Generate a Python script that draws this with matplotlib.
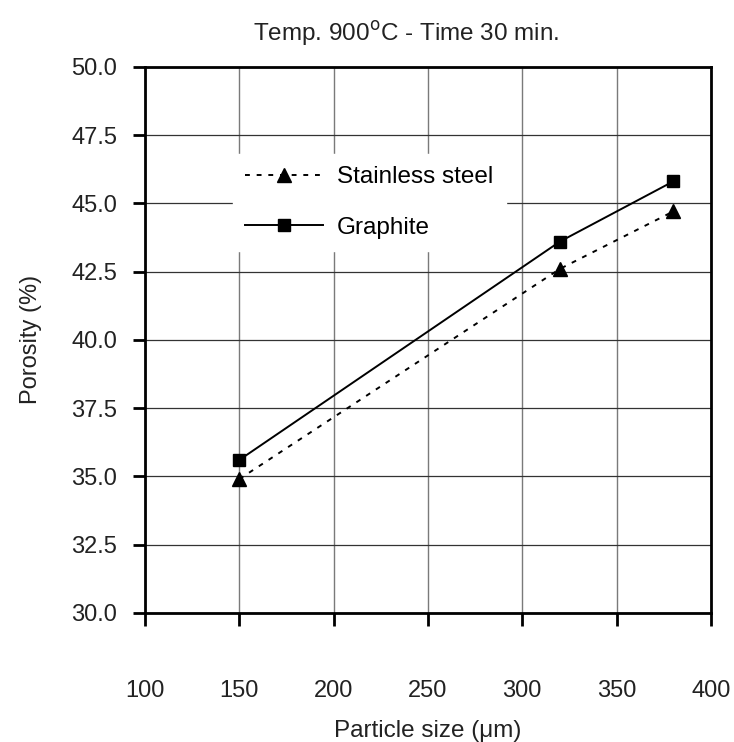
import matplotlib.pyplot as plt

plt.rcParams['font.family'] = ['Liberation Sans', 'DejaVu Sans']

particle_size = [150, 320, 380]
stainless = [34.9, 42.6, 44.7]
graphite = [35.6, 43.6, 45.8]
x_ticks = [100, 150, 200, 250, 300, 350, 400]
y_ticks = [30.0, 32.5, 35.0, 37.5, 40.0, 42.5, 45.0, 47.5, 50.0]

fig = plt.figure(figsize=(7.34, 7.42), dpi=100)
ax = fig.add_axes([0.1975, 0.174, 0.771, 0.736])

ax.plot(particle_size, stainless, color='black', linestyle=(0, (2.5, 3.5)), linewidth=1.4,
        marker='^', markersize=10.5, label='Stainless steel')
ax.plot(particle_size, graphite, color='black', linestyle='-', linewidth=1.4,
        marker='s', markersize=8.5, label='Graphite')

ax.set_xlim(100, 400)
ax.set_ylim(30, 50)
ax.set_xticks(x_ticks)
ax.set_yticks(y_ticks)
ax.set_yticklabels([f'{v:.1f}' for v in y_ticks])
ax.xaxis.grid(True, color='#7a7a7a', linewidth=1.0)
ax.yaxis.grid(True, color='#333333', linewidth=0.9)
ax.set_axisbelow(True)

for s in ax.spines.values():
    s.set_linewidth(2)
ax.tick_params(axis='x', direction='out', length=9, width=2, pad=39, labelsize=17)
ax.tick_params(axis='y', direction='out', length=9, width=2, pad=11, labelsize=17)
for lbl in ax.get_xticklabels() + ax.get_yticklabels():
    lbl.set_color('#222222')

# title sits a bit left of the axes centre in the original
fig.text(0.553, 0.9447, r'Temp. 900$^{\mathrm{o}}$C - Time 30 min.', fontsize=17.5,
         ha='center', va='baseline', color='#222222')
ax.set_xlabel('Particle size (μm)', fontsize=17.5, color='#222222')
ax.set_ylabel('Porosity (%)', fontsize=17, color='#222222')
ax.xaxis.set_label_coords(0.5, -0.196)
ax.yaxis.set_label_coords(-0.182, 0.5)

leg = ax.legend(loc='upper left', bbox_to_anchor=(0.155, 0.840), borderaxespad=0,
                frameon=True, fontsize=17.5, handlelength=3.2, handletextpad=0.6,
                labelspacing=1.16, borderpad=0.5)
leg.get_frame().set_facecolor('white')
leg.get_frame().set_edgecolor('white')
leg.get_frame().set_alpha(1)
leg.get_frame().set_boxstyle('square', pad=0)

fig.savefig('out.png', dpi=100)
